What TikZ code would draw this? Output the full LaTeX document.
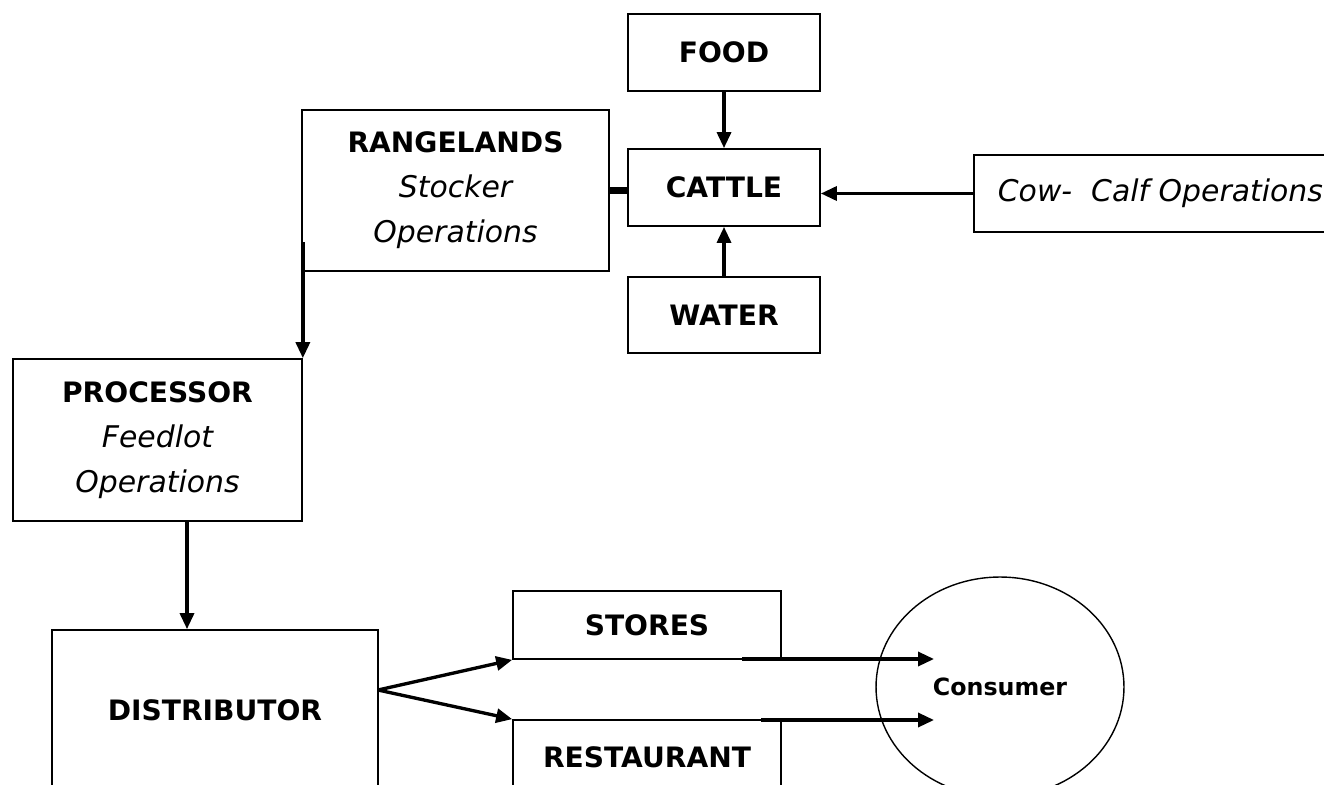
\documentclass[tikz,border=0pt]{standalone}
\usepackage{fontspec}
\setmainfont{DejaVu Sans}[BoldFont={DejaVu Sans Bold},ItalicFont={DejaVu Sans Oblique},BoldItalicFont={DejaVu Sans Bold Oblique}]
\usetikzlibrary{arrows.meta,shapes.geometric,calc}
\newcommand{\opline}[1]{{\mdseries\itshape\fontsize{17}{25.6}\selectfont #1}}
\begin{document}
\begin{tikzpicture}[x=0.02cm,y=-0.02cm]
		\tikzset{box/.style = {draw,line width=1pt,align=center,inner sep=0pt,font=\bfseries\fontsize{16}{25.6}\selectfont}}
		\tikzset{arr/.style = {-{Triangle[length=0.32cm,width=0.28cm]},line width=1.9pt}}
		\useasboundingbox (0,0) rectangle (1324,784);
		\clip (0,0) rectangle (1324,784);
		\node[box,minimum width=3.84cm,minimum height=1.54cm] (food) at (724,52.5) {FOOD};
		\node[box,minimum width=3.84cm,minimum height=1.54cm] (cattle) at (724,187.5) {CATTLE};
		\node[box,minimum width=3.84cm,minimum height=1.52cm] (water) at (724,315) {WATER};
		\node[box,minimum width=6.14cm,minimum height=3.22cm] (range) at (455.5,190.5) {RANGELANDS\\ \opline{Stocker}\\ \opline{Operations}};
		\node[box,anchor=west,inner xsep=0.48cm,minimum height=1.54cm,font=\mdseries\itshape\fontsize{17}{25.6}\selectfont] (cow) at (973,193.5) {Cow-~ Calf Operations};
		\node[box,minimum width=5.78cm,minimum height=3.24cm] (proc) at (157.5,440) {PROCESSOR\\ \opline{Feedlot}\\ \opline{Operations}};
		\node[box,minimum width=6.52cm,minimum height=3.2cm] (dist) at (215,710) {DISTRIBUTOR};
		\node[box,minimum width=5.36cm,minimum height=1.36cm] (stores) at (647,625) {STORES};
		\node[box,minimum width=5.36cm,minimum height=1.5cm] (rest) at (647,757.5) {RESTAURANT};
		\node[draw,ellipse,line width=0.8pt,inner sep=0pt,minimum width=4.96cm,minimum height=4.4cm,font=\bfseries\fontsize{13.5}{16}\selectfont] (cons) at (1000,687) {Consumer};
		\coordinate (rtop) at ($(proc.north east)+(0,-116)$);
		\coordinate (pdrop) at (187,0);
		\coordinate (fork) at (378,690);
		\coordinate (sgo) at (742,659);
		\coordinate (rgo) at (761,720);
		\coordinate (tip) at (934,0);
		\path[arr] (food) edge (cattle);
		\path[arr] (water) edge (cattle);
		\path[arr] (cow.west) edge (cow.west -| cattle.east);
		\path[draw,line width=4pt] (range.east) -- (range.east -| cattle.west);
		\path[arr] (rtop) edge (proc.north east);
		\path[arr] (proc.south -| pdrop) edge (dist.north -| pdrop);
		\path[arr] (fork) edge (stores.south west) (fork) edge (rest.north west);
		\path[arr] (sgo) edge (sgo -| tip) (rgo) edge (rgo -| tip);
	\end{tikzpicture}
\end{document}
